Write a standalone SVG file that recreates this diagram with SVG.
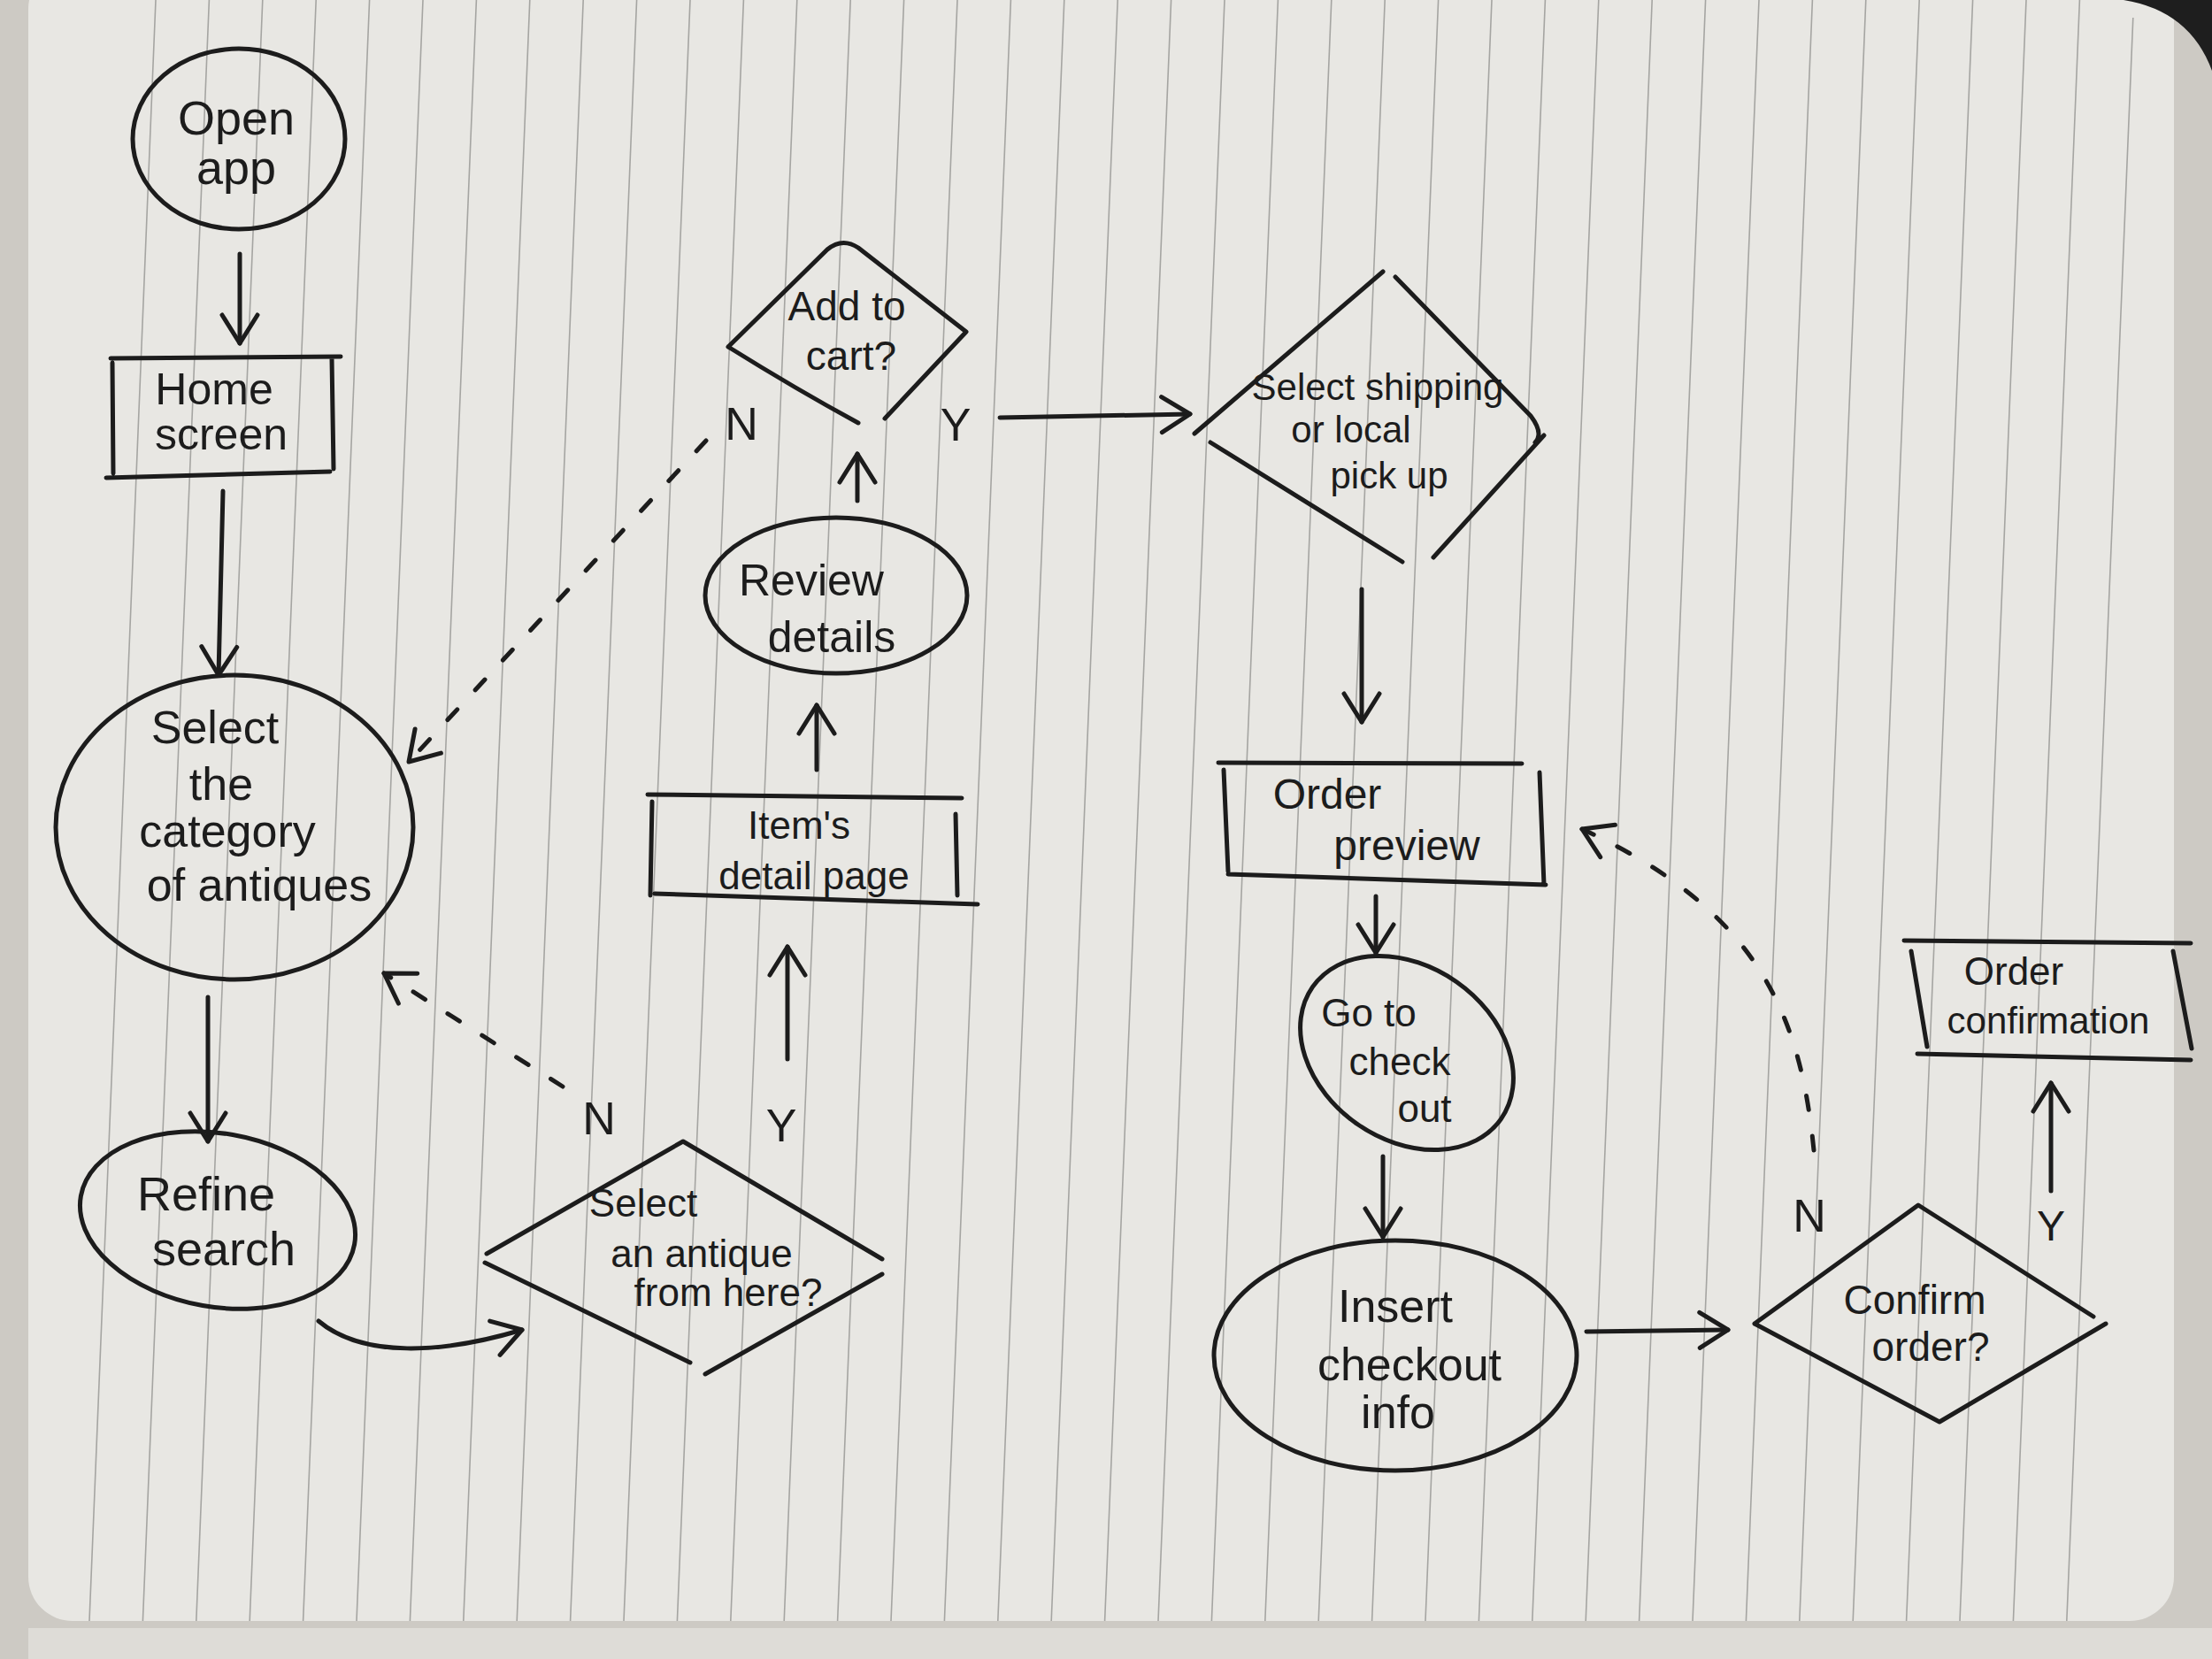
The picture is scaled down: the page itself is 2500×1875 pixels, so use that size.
<svg xmlns="http://www.w3.org/2000/svg" width="2500" height="1875" viewBox="0 0 2500 1875">
  <defs>
    <style>
      .ink{fill:none;stroke:#1c1c1c;stroke-width:5;stroke-linecap:round;stroke-linejoin:round}
      .dash{fill:none;stroke:#1c1c1c;stroke-width:5;stroke-linecap:round;stroke-dasharray:16 30}
      .t{font-family:"Liberation Sans","DejaVu Sans",sans-serif;fill:#1c1c1c;text-anchor:middle}
      .rule{fill:none;stroke:#8f8f8c;stroke-width:1.6;opacity:0.75}
    </style>
    <marker id="ah" viewBox="-40 -26 46 52" refX="0" refY="0" markerWidth="46" markerHeight="52" markerUnits="userSpaceOnUse" orient="auto">
      <path d="M-32,-20 L0,0 L-32,20" fill="none" stroke="#1c1c1c" stroke-width="5" stroke-linecap="round" stroke-linejoin="round"/>
    </marker>
  </defs>

  <!-- paper -->
  <rect x="0" y="0" width="2500" height="1875" fill="#cdcac4"/>
  <rect x="32" y="-40" width="2425" height="1872" rx="50" fill="#e8e7e3"/>
  <rect x="32" y="1840" width="2468" height="40" fill="#dedcd7"/>
  <path d="M2400,0 L2500,0 L2500,80 Q2475,12 2400,0 Z" fill="#1e1e1e"/>
  <path class="rule" d="M176,0 L101,1832 M236.4,0 L161.4,1832 M296.8,0 L221.8,1832 M357.2,0 L282.2,1832 M417.6,0 L342.6,1832 M478,0 L403,1832 M538.4,0 L463.4,1832 M598.8,0 L523.8,1832 M659.2,0 L584.2,1832 M719.6,0 L644.6,1832 M780,0 L705,1832 M840.4,0 L765.4,1832 M900.8,0 L825.8,1832 M961.2,0 L886.2,1832 M1021.6,0 L946.6,1832 M1082,0 L1007,1832 M1142.4,0 L1067.4,1832 M1202.8,0 L1127.8,1832 M1263.2,0 L1188.2,1832 M1323.6,0 L1248.6,1832 M1384,0 L1309,1832 M1444.4,0 L1369.4,1832 M1504.8,0 L1429.8,1832 M1565.2,0 L1490.2,1832 M1625.6,0 L1550.6,1832 M1686,0 L1611,1832 M1746.4,0 L1671.4,1832 M1806.8,0 L1731.8,1832 M1867.2,0 L1792.2,1832 M1927.6,0 L1852.6,1832 M1988,0 L1913,1832 M2048.4,0 L1973.4,1832 M2108.8,0 L2033.8,1832 M2169.2,0 L2094.2,1832 M2229.6,0 L2154.6,1832 M2290,0 L2215,1832 M2350.4,0 L2275.4,1832 M2410.8,20 L2335.8,1832"/>

  <!-- connectors -->
  <g id="connectors">
    <path class="ink" d="M271,287 L271,388" marker-end="url(#ah)"/>
    <path class="ink" d="M252,555 L247,763" marker-end="url(#ah)"/>
    <path class="ink" d="M235,1127 L235,1290" marker-end="url(#ah)"/>
    <path class="ink" d="M360,1493 C410,1535 500,1530 590,1503" marker-end="url(#ah)"/>
    <path class="dash" d="M636,1228 L434,1100" marker-end="url(#ah)"/>
    <path class="ink" d="M890,1197 L890,1070" marker-end="url(#ah)"/>
    <path class="ink" d="M923,870 L923,797" marker-end="url(#ah)"/>
    <path class="ink" d="M969,566 L969,513" marker-end="url(#ah)"/>
    <path class="dash" d="M798,498 L462,861" marker-end="url(#ah)"/>
    <path class="ink" d="M1130,472 L1345,468" marker-end="url(#ah)"/>
    <path class="ink" d="M1539,666 L1539,816" marker-end="url(#ah)"/>
    <path class="ink" d="M1555,1013 L1555,1077" marker-end="url(#ah)"/>
    <path class="ink" d="M1563,1307 L1563,1398" marker-end="url(#ah)"/>
    <path class="ink" d="M1793,1505 L1953,1503" marker-end="url(#ah)"/>
    <path class="dash" d="M2050,1300 C2035,1150 1990,1030 1788,937" marker-end="url(#ah)"/>
    <path class="ink" d="M2318,1346 L2318,1224" marker-end="url(#ah)"/>
    <text class="t" x="677" y="1282" font-size="52">N</text>
    <text class="t" x="883" y="1290" font-size="52">Y</text>
    <text class="t" x="838" y="497" font-size="52">N</text>
    <text class="t" x="1080" y="498" font-size="52">Y</text>
    <text class="t" x="2045" y="1392" font-size="52">N</text>
    <text class="t" x="2318" y="1402" font-size="48">Y</text>
  </g>

  <g id="open-app">
    <ellipse class="ink" cx="270" cy="157" rx="120" ry="102"/>
    <text class="t" x="267" y="152" font-size="54">Open</text>
    <text class="t" x="267" y="208" font-size="54">app</text>
  </g>

  <g id="home-screen">
    <path class="ink" d="M125,405 L385,403 M127,410 L128,535 M375,405 L377,530 M120,540 L373,533"/>
    <text class="t" x="242" y="457" font-size="50">Home</text>
    <text class="t" x="250" y="508" font-size="50">screen</text>
  </g>

  <g id="select-category">
    <ellipse class="ink" cx="265" cy="935" rx="202" ry="172"/>
    <text class="t" x="243" y="840" font-size="52">Select</text>
    <text class="t" x="250" y="904" font-size="52">the</text>
    <text class="t" x="257" y="957" font-size="52">category</text>
    <text class="t" x="293" y="1018" font-size="52">of antiques</text>
  </g>

  <g id="refine-search">
    <ellipse class="ink" cx="246" cy="1379" rx="157" ry="98" transform="rotate(10 246 1379)"/>
    <text class="t" x="233" y="1368" font-size="54">Refine</text>
    <text class="t" x="253" y="1430" font-size="54">search</text>
  </g>

  <g id="select-antique">
    <path class="ink" d="M550,1417 L772,1290 L997,1423 M548,1427 L780,1540 M997,1440 L797,1553"/>
    <text class="t" x="727" y="1375" font-size="44">Select</text>
    <text class="t" x="793" y="1432" font-size="44">an antique</text>
    <text class="t" x="823" y="1476" font-size="44">from here?</text>
  </g>

  <g id="items-detail">
    <path class="ink" d="M732,898 L1087,902 M737,906 L735,1012 M1080,920 L1082,1012 M740,1010 L1105,1022"/>
    <text class="t" x="903" y="948" font-size="44">Item's</text>
    <text class="t" x="920" y="1005" font-size="44">detail page</text>
  </g>

  <g id="review-details">
    <ellipse class="ink" cx="945" cy="673" rx="148" ry="88"/>
    <text class="t" x="917" y="673" font-size="50">Review</text>
    <text class="t" x="940" y="737" font-size="50">details</text>
  </g>

  <g id="add-to-cart">
    <path class="ink" d="M823,392 L935,282 Q952,268 970,280 L1092,375 L1000,473 M823,392 Q900,440 970,478"/>
    <text class="t" x="957" y="362" font-size="46">Add to</text>
    <text class="t" x="962" y="418" font-size="46">cart?</text>
  </g>

  <g id="select-shipping">
    <path class="ink" d="M1350,490 L1563,307 M1577,313 L1730,470 Q1745,490 1735,500 M1745,492 L1620,630 M1368,500 L1585,635"/>
    <text class="t" x="1557" y="452" font-size="42">Select shipping</text>
    <text class="t" x="1527" y="500" font-size="42">or local</text>
    <text class="t" x="1570" y="552" font-size="42">pick up</text>
  </g>

  <g id="order-preview">
    <path class="ink" d="M1377,862 L1720,863 M1383,870 L1388,985 M1388,988 L1747,1000 M1740,873 L1745,1000"/>
    <text class="t" x="1500" y="914" font-size="48">Order</text>
    <text class="t" x="1590" y="972" font-size="48">preview</text>
  </g>

  <g id="go-to-checkout">
    <ellipse class="ink" cx="1590" cy="1190" rx="130" ry="98" transform="rotate(35 1590 1190)"/>
    <text class="t" x="1547" y="1160" font-size="44">Go to</text>
    <text class="t" x="1582" y="1215" font-size="44">check</text>
    <text class="t" x="1610" y="1268" font-size="44">out</text>
  </g>

  <g id="insert-checkout">
    <ellipse class="ink" cx="1577" cy="1532" rx="205" ry="130"/>
    <text class="t" x="1577" y="1494" font-size="52">Insert</text>
    <text class="t" x="1593" y="1560" font-size="52">checkout</text>
    <text class="t" x="1580" y="1614" font-size="52">info</text>
  </g>

  <g id="confirm-order">
    <path class="ink" d="M1983,1496 L2168,1362 L2366,1488 M1983,1496 L2192,1607 L2380,1496"/>
    <text class="t" x="2164" y="1485" font-size="46">Confirm</text>
    <text class="t" x="2182" y="1538" font-size="46">order?</text>
  </g>

  <g id="order-confirmation">
    <path class="ink" d="M2152,1063 L2476,1066 M2160,1075 L2178,1183 M2167,1191 L2476,1198 M2456,1075 L2477,1185"/>
    <text class="t" x="2276" y="1113" font-size="44">Order</text>
    <text class="t" x="2315" y="1168" font-size="42">confirmation</text>
  </g>
</svg>
